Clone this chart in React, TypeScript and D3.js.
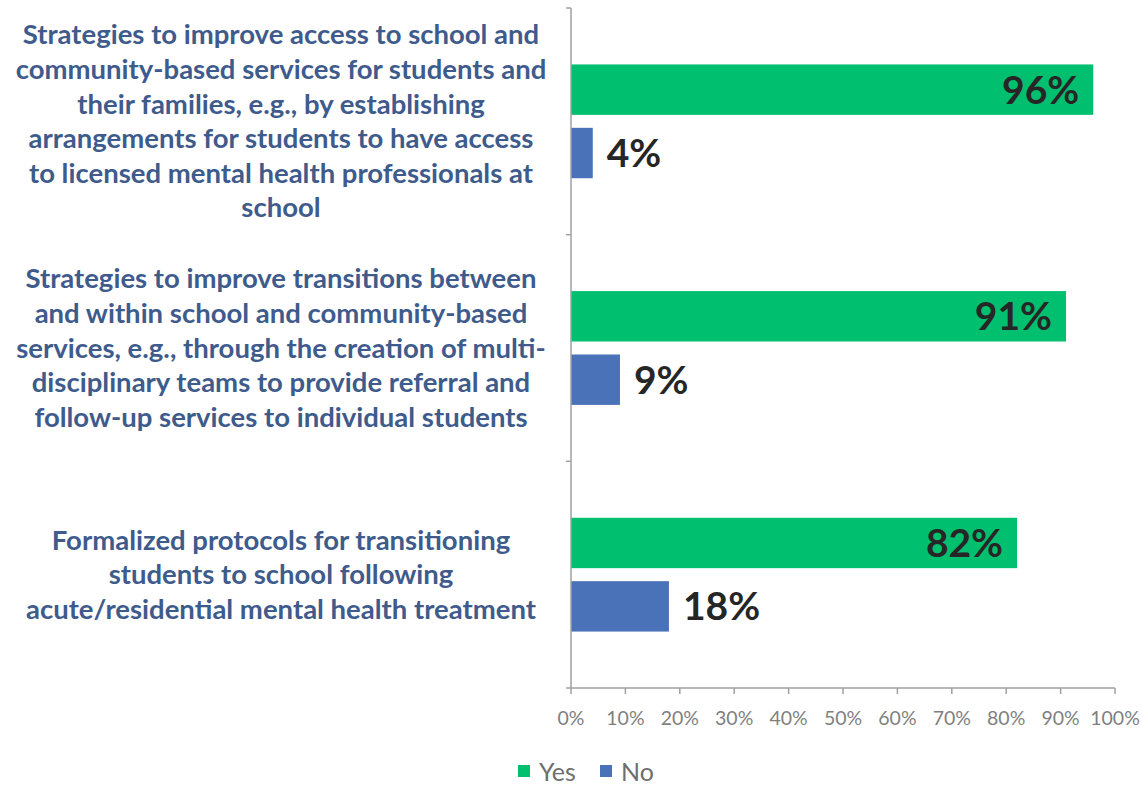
import React from "react";
import * as d3 from "d3";

const categories: string[][] = [
  [
    "Strategies to improve access to school and",
    "community-based services for students and",
    "their families, e.g., by establishing",
    "arrangements for students to have access",
    "to licensed mental health professionals at",
    "school",
  ],
  [
    "Strategies to improve transitions between",
    "and within school and community-based",
    "services, e.g., through the creation of multi-",
    "disciplinary teams to provide referral and",
    "follow-up services to individual students",
  ],
  [
    "Formalized protocols for transitioning",
    "students to school following",
    "acute/residential mental health treatment",
  ],
];
const seriesNames = ["Yes", "No"];
const yesValues = [0.96, 0.91, 0.82];
const noValues = [0.04, 0.09, 0.18];
const xTicks = [0, 0.1, 0.2, 0.3, 0.4, 0.5, 0.6, 0.7, 0.8, 0.9, 1.0];
const colors = ["#00BF6F", "#4A72B8"];

const W = 1142;
const H = 786;
const X0 = 571;
const X1 = 1115;
const Y0 = 8;
const Y1 = 688;

export default function App() {
  const x = d3.scaleLinear().domain([0, 1]).range([X0, X1]);
  const y = d3
    .scaleBand<number>()
    .domain(categories.map((_, i) => i))
    .range([Y0, Y1]);
  const inner = d3
    .scaleBand<string>()
    .domain(seriesNames)
    .range([0, y.bandwidth()])
    .paddingInner(0.205)
    .paddingOuter(0.89);
  const series = [yesValues, noValues];
  const font = "Lato, 'Open Sans', sans-serif";
  const axisColor = "#A0A0A0";
  const lineH = 34.6;
  const boundaries = [Y0, ...categories.map((_, i) => (y(i) as number) + y.bandwidth())];

  return (
    <svg
      width={W}
      height={H}
      style={{ position: "absolute", left: 0, top: 0, background: "#fff" }}
    >
      {/* category labels */}
      {categories.map((lines, i) => {
        const cy = (y(i) as number) + y.bandwidth() / 2;
        const startY = cy - ((lines.length - 1) * lineH) / 2;
        return (
          <text
            key={i}
            x={281}
            textAnchor="middle"
            fontFamily={font}
            fontWeight={700}
            fontSize={27.5}
            fill="#3E5B8C"
          >
            {lines.map((l, j) => (
              <tspan key={j} x={281} y={startY + j * lineH} dy="0.35em">
                {l}
              </tspan>
            ))}
          </text>
        );
      })}

      {/* bars */}
      {series.map((vals, s) =>
        vals.map((v, i) => {
          const by = (y(i) as number) + (inner(seriesNames[s]) as number);
          return (
            <rect
              key={`${s}-${i}`}
              x={x(0)}
              y={by}
              width={x(v) - x(0)}
              height={inner.bandwidth()}
              fill={colors[s]}
            />
          );
        })
      )}

      {/* value labels */}
      {series.map((vals, s) =>
        vals.map((v, i) => {
          const by = (y(i) as number) + (inner(seriesNames[s]) as number) + inner.bandwidth() / 2;
          const inside = s === 0;
          return (
            <text
              key={`l-${s}-${i}`}
              x={inside ? x(v) - 14 : x(v) + 14}
              y={by}
              dy="0.36em"
              textAnchor={inside ? "end" : "start"}
              fontFamily={font}
              fontWeight={700}
              fontSize={39}
              fill="#262626"
            >
              {d3.format(".0%")(v)}
            </text>
          );
        })
      )}

      {/* y axis line and ticks */}
      <line x1={X0} x2={X0} y1={Y0} y2={Y1} stroke={axisColor} strokeWidth={1.5} />
      {boundaries.map((b, i) => (
        <line key={`yt${i}`} x1={X0 - 5} x2={X0} y1={b} y2={b} stroke={axisColor} strokeWidth={1.5} />
      ))}

      {/* x axis */}
      <line x1={X0} x2={X1} y1={Y1} y2={Y1} stroke={axisColor} strokeWidth={1.5} />
      {xTicks.map((t) => (
        <g key={`xt${t}`}>
          <line x1={x(t)} x2={x(t)} y1={Y1} y2={Y1 + 6} stroke={axisColor} strokeWidth={1.5} />
          <text
            x={x(t)}
            y={Y1 + 30}
            dy="0.35em"
            textAnchor="middle"
            fontFamily={font}
            fontSize={19.5}
            fill="#7F7F7F"
          >
            {d3.format(".0%")(t)}
          </text>
        </g>
      ))}

      {/* legend */}
      {seriesNames.map((n, s) => {
        const lx = [518, 600][s];
        return (
          <g key={n}>
            <rect x={lx} y={765} width={12} height={12} fill={colors[s]} />
            <text
              x={lx + 21}
              y={772}
              dy="0.35em"
              fontFamily={font}
              fontSize={25}
              fill="#6E6E6E"
            >
              {n}
            </text>
          </g>
        );
      })}
    </svg>
  );
}
